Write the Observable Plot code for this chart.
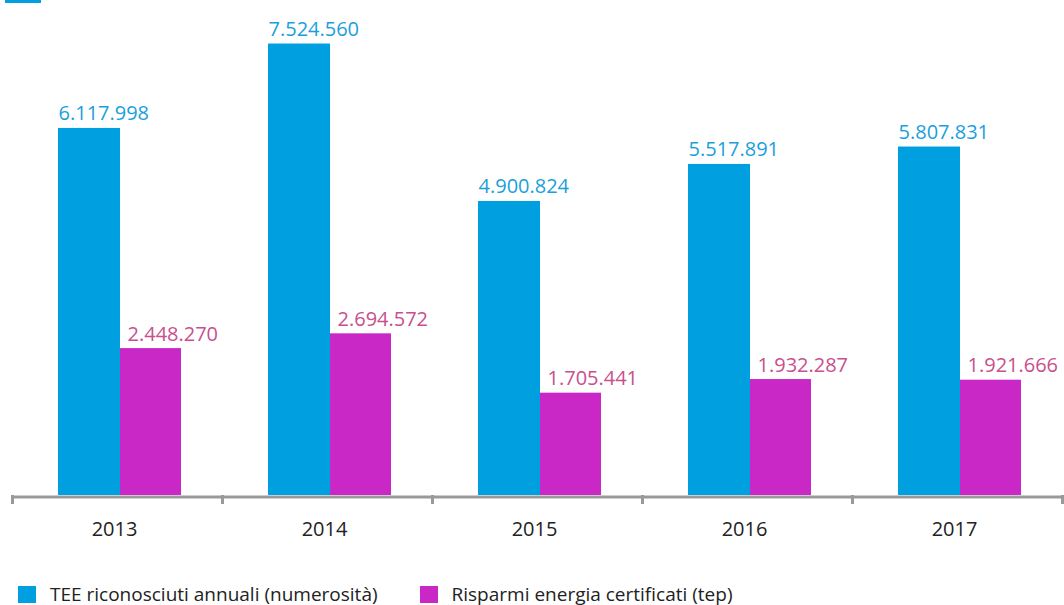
<!DOCTYPE html>
<html>
<head>
<meta charset="utf-8">
<script src="https://cdn.jsdelivr.net/npm/d3@7"></script>
<script src="https://cdn.jsdelivr.net/npm/@observablehq/plot@0.6"></script>
<style>
  html, body { margin: 0; padding: 0; background: #fff; }
  body { width: 1064px; height: 605px; position: relative; overflow: hidden; font-family: "Open Sans", sans-serif; }
  #topmark { position: absolute; left: 5px; top: 0; width: 36px; height: 3px; background: #00a0e0; }
  #legend { position: absolute; left: 18px; top: 581px; display: flex; align-items: center; font-size: 19px; color: #222; }
  .item { display: flex; align-items: center; }
  .sw { width: 18px; height: 17px; margin-right: 14px; }
</style>
</head>
<body>
<div id="topmark"></div>
<div id="chart"></div>
<div id="legend"></div>
<script>
const years = [2013, 2014, 2015, 2016, 2017];
const tee = [6117998, 7524560, 4900824, 5517891, 5807831];
const risparmi = [2448270, 2694572, 1705441, 1932287, 1921666];
const seriesNames = ["TEE riconosciuti annuali (numerosità)", "Risparmi energia certificati (tep)"];
const barColors = ["#00a0e0", "#c927c6"];
const labelColors = ["#1a9fdc", "#c8508e"];
const fmt = v => d3.format(",")(v).replace(/,/g, ".");

const teeData = years.map((y, i) => ({year: y, value: tee[i]}));
const rispData = years.map((y, i) => ({year: y, value: risparmi[i]}));
const boundaries = [years[0] - 0.5, ...years.map(y => y + 0.5)];

const chart = Plot.plot({
  width: 1064,
  height: 580,
  marginTop: 0,
  marginBottom: 85,
  marginLeft: 12,
  marginRight: 2,
  style: {fontFamily: "'Open Sans', sans-serif", background: "white"},
  x: {type: "linear", domain: [years[0] - 0.5, years[years.length - 1] + 0.5], axis: null},
  y: {domain: [0, 8250000], axis: null},
  marks: [
    Plot.rectY(teeData, {x1: d => d.year - 0.5, x2: d => d.year + 0.5, y: "value", fill: barColors[0], insetLeft: 46, insetRight: 102}),
    Plot.rectY(rispData, {x1: d => d.year - 0.5, x2: d => d.year + 0.5, y: "value", fill: barColors[1], insetLeft: 108, insetRight: 41}),
    Plot.text(teeData, {x: d => d.year - 0.5, y: "value", text: d => fmt(d.value), fill: labelColors[0], textAnchor: "start", lineAnchor: "bottom", dx: 46, dy: -8, fontSize: 20}),
    Plot.text(rispData, {x: d => d.year - 0.5, y: "value", text: d => fmt(d.value), fill: labelColors[1], textAnchor: "start", lineAnchor: "bottom", dx: 115, dy: -8, fontSize: 20}),
    Plot.ruleY([0], {stroke: "#999", strokeWidth: 3, dy: 1.5}),
    Plot.axisX(boundaries, {tickSize: 9, stroke: "#999", strokeWidth: 3, text: null, tickFormat: () => ""}),
    Plot.axisX(years, {tickSize: 0, tickPadding: 26, tickFormat: d => String(d), fontSize: 20, fill: "#222", dx: -3})
  ]
});
document.getElementById("chart").appendChild(chart);

const legend = document.getElementById("legend");
seriesNames.forEach((name, i) => {
  const it = document.createElement("div");
  it.className = "item";
  it.style.marginRight = i === 0 ? "42px" : "0";
  const sw = document.createElement("div");
  sw.className = "sw";
  sw.style.background = barColors[i];
  const tx = document.createElement("span");
  tx.textContent = name;
  it.appendChild(sw);
  it.appendChild(tx);
  legend.appendChild(it);
});
</script>
</body>
</html>
